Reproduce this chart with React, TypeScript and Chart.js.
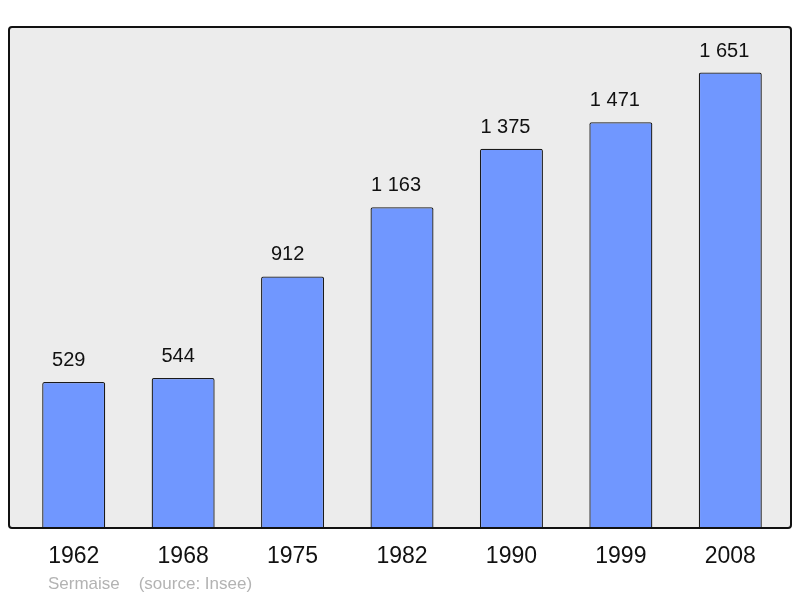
import React, { useEffect, useRef } from "react";
import { Chart, registerables } from "chart.js";

Chart.register(...registerables);

const categories = ["1962", "1968", "1975", "1982", "1990", "1999", "2008"];
const population = [529, 544, 912, 1163, 1375, 1471, 1651];
const yMax = 1816;
const footerText = "Sermaise    (source: Insee)";

const fmt = (v: number) => {
  const s = String(v);
  return s.length > 3 ? s.slice(0, s.length - 3) + " " + s.slice(s.length - 3) : s;
};

const FONT = "'Liberation Sans', Arial, sans-serif";

function roundRect(ctx: CanvasRenderingContext2D, x: number, y: number, w: number, h: number, r: number) {
  ctx.beginPath();
  ctx.moveTo(x + r, y);
  ctx.lineTo(x + w - r, y);
  ctx.quadraticCurveTo(x + w, y, x + w, y + r);
  ctx.lineTo(x + w, y + h - r);
  ctx.quadraticCurveTo(x + w, y + h, x + w - r, y + h);
  ctx.lineTo(x + r, y + h);
  ctx.quadraticCurveTo(x, y + h, x, y + h - r);
  ctx.lineTo(x, y + r);
  ctx.quadraticCurveTo(x, y, x + r, y);
  ctx.closePath();
}

const boxPlugin = {
  id: "boxPlugin",
  beforeDatasetsDraw(chart: any) {
    const { ctx, chartArea } = chart;
    const x = chartArea.left - 10;
    const w = chartArea.right + 6 - x;
    ctx.save();
    roundRect(ctx, x, chartArea.top, w, chartArea.bottom - chartArea.top, 3);
    ctx.fillStyle = "#ececec";
    ctx.fill();
    ctx.restore();
  },
  afterDatasetsDraw(chart: any) {
    const { ctx, chartArea } = chart;
    const x = chartArea.left - 10;
    const w = chartArea.right + 6 - x;
    ctx.save();
    roundRect(ctx, x, chartArea.top, w, chartArea.bottom - chartArea.top, 3);
    ctx.lineWidth = 2;
    ctx.strokeStyle = "#111";
    ctx.stroke();
    // value labels
    const meta = chart.getDatasetMeta(0);
    ctx.fillStyle = "#111";
    ctx.font = "20px " + FONT;
    ctx.textAlign = "center";
    ctx.textBaseline = "alphabetic";
    meta.data.forEach((el: any, i: number) => {
      const shift = population[i] >= 1000 ? -6 : -5;
      ctx.fillText(fmt(population[i]), el.x + shift, el.y - 16);
    });
    // footer
    ctx.fillStyle = "#b3b3b3";
    ctx.font = "17px " + FONT;
    ctx.textAlign = "left";
    ctx.fillText(footerText, 48, 589);
    ctx.restore();
  },
};

export default function App() {
  const ref = useRef<HTMLCanvasElement>(null);
  useEffect(() => {
    if (!ref.current) return;
    const chart = new Chart(ref.current, {
      type: "bar",
      data: {
        labels: categories,
        datasets: [
          {
            data: population,
            backgroundColor: "#7097ff",
            borderColor: "#1a1a1a",
            borderWidth: 1.3,
            borderRadius: 2,
            borderSkipped: "bottom",
            barPercentage: 0.576,
            categoryPercentage: 1,
          },
        ],
      },
      options: {
        animation: false,
        responsive: false,
        maintainAspectRatio: false,
        layout: { padding: { left: 19, right: 15, top: 27, bottom: 0 } },
        plugins: {
          legend: { display: false },
          tooltip: { enabled: false },
          title: { display: false },
        },
        scales: {
          x: {
            grid: { display: false, drawTicks: false },
            border: { display: false },
            ticks: {
              color: "#111",
              font: { family: FONT, size: 23 },
              padding: 15,
              maxRotation: 0,
            },
            afterFit(scale: any) {
              scale.height = 70;
            },
          },
          y: {
            display: false,
            min: 0,
            max: yMax,
          },
        },
      },
      plugins: [boxPlugin],
    });
    return () => chart.destroy();
  }, []);
  return (
    <div style={{ position: "absolute", left: 0, top: 0, width: 800, height: 598, background: "#fff" }}>
      <canvas ref={ref} width={800} height={598} style={{ width: 800, height: 598 }} />
    </div>
  );
}
